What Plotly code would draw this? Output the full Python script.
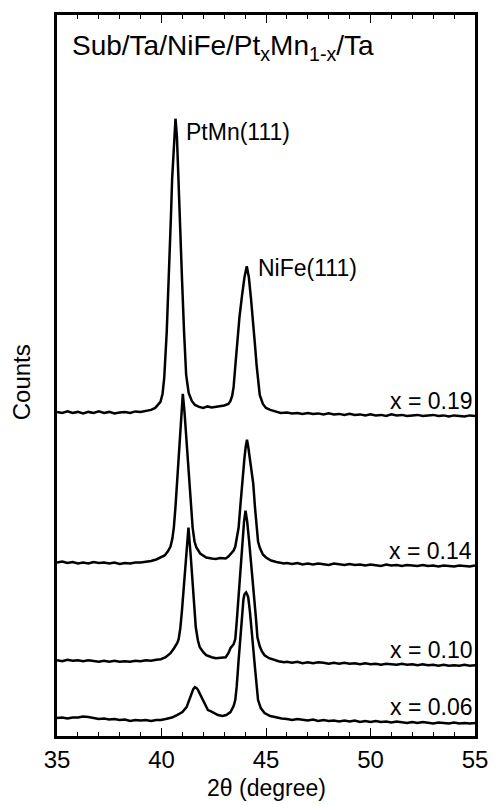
import plotly.graph_objects as go

# ---- XRD scans of Sub/Ta/NiFe/PtxMn1-x/Ta, stacked with vertical offsets (a.u.) ----
two_theta_x019 = [35.0, 35.25, 35.5, 35.75, 36.0, 36.25, 36.5, 36.75, 37.0, 37.25, 37.5, 37.75,
                  38.0, 38.25, 38.5, 38.75, 39.0, 39.25, 39.5, 39.7, 39.85, 39.95, 40.05, 40.13,
                  40.25, 40.36, 40.45, 40.51, 40.6, 40.67, 40.74, 40.82, 40.9, 40.98, 41.08, 41.18,
                  41.3, 41.45, 41.6, 41.8, 42.0, 42.2, 42.4, 42.6, 42.8, 43.0, 43.2, 43.3, 43.38,
                  43.45, 43.52, 43.61, 43.73, 43.85, 43.97, 44.08, 44.18, 44.28, 44.38, 44.47, 44.55,
                  44.62, 44.7, 44.85, 45.0, 45.2, 45.45, 45.7, 46.0, 46.25, 46.5, 46.75, 47.0, 47.25,
                  47.5, 47.75, 48.0, 48.25, 48.5, 48.75, 49.0, 49.25, 49.5, 49.75, 50.0, 50.25, 50.5,
                  50.75, 51.0, 51.25, 51.5, 51.75, 52.0, 52.25, 52.5, 52.75, 53.0, 53.25, 53.5,
                  53.75, 54.0, 54.25, 54.5, 54.75, 55.0]
counts_x019 = [325, 324, 325.5, 324, 325, 323.5, 325, 324, 325.5, 324, 325, 323.5,
               324.5, 325, 324, 325.5, 325, 326, 327, 329, 332, 335, 343, 359,
               405, 459, 520, 559, 600, 619, 600, 559, 510, 459, 405, 362,
               344, 336, 332, 330, 329, 330.5, 329.5, 330, 331, 331.5, 333, 336, 341,
               350, 368, 393, 420, 441, 460, 471, 460, 439, 418, 393, 372,
               355, 342, 333, 329, 327, 325.5, 324, 324.5, 323.5, 324, 323, 324, 323,
               323.5, 322.5, 323.5, 322.5, 323, 322, 323, 322, 322.5, 321.5, 322.5, 321.5, 322,
               321, 322.5, 321.5, 322, 321, 321.5, 322, 321, 321.5, 322, 321, 321.5,
               320.5, 321.5, 321, 320.5, 321.5, 321]

two_theta_x014 = [35.0, 35.25, 35.5, 35.75, 36.0, 36.25, 36.5, 36.75, 37.0, 37.25, 37.5, 37.75,
                  38.0, 38.25, 38.5, 38.75, 39.0, 39.25, 39.5, 39.75, 39.97, 40.15, 40.3, 40.43,
                  40.52, 40.59, 40.67, 40.74, 40.82, 40.9, 40.96, 41.02, 41.1, 41.18, 41.26, 41.33,
                  41.41, 41.49, 41.58, 41.67, 41.85, 42.0, 42.14, 42.4, 42.6, 42.8, 43.07, 43.2,
                  43.35, 43.45, 43.53, 43.61, 43.69, 43.77, 43.85, 43.97, 44.03, 44.09, 44.15, 44.22,
                  44.3, 44.39, 44.47, 44.54, 44.62, 44.7, 44.85, 45.0, 45.24, 45.5, 45.86, 46.0,
                  46.25, 46.5, 46.75, 47.0, 47.25, 47.5, 47.75, 48.0, 48.25, 48.5, 48.75, 49.0,
                  49.25, 49.5, 49.75, 50.0, 50.25, 50.5, 50.75, 51.0, 51.25, 51.5, 51.75, 52.0,
                  52.25, 52.5, 52.75, 53.0, 53.25, 53.5, 53.75, 54.0, 54.25, 54.5, 54.75, 55.0]
counts_x014 = [174, 175, 173.5, 174.5, 173, 174, 173, 174.5, 173.5, 174, 173, 174,
               172.5, 173.5, 173, 174, 174, 174.5, 175.5, 177, 179, 181, 185, 190,
               198, 209, 230, 253, 278, 303, 325, 343, 325, 303, 278, 253,
               230, 209, 195, 189, 183, 180.5, 179, 178, 177.5, 178.5, 178, 180,
               183, 186, 190, 198, 209, 230, 253, 279, 290, 297, 290, 279,
               265, 253, 230, 209, 195, 189, 182, 179, 176, 174.5, 173, 173.5,
               172.5, 173.5, 172, 173, 172, 173, 172.5, 171.5, 173, 172, 171.5, 172.5,
               171.5, 172, 171, 172, 171.5, 170.5, 172, 171, 171.5, 170.5, 171.5, 171,
               170.5, 171.5, 170.5, 171, 170, 171, 170.5, 170, 171, 170.5, 170, 171]

two_theta_x010 = [35.0, 35.25, 35.5, 35.75, 36.0, 36.25, 36.5, 36.75, 37.0, 37.25, 37.5, 37.75,
                  38.0, 38.25, 38.5, 38.75, 39.0, 39.25, 39.5, 39.75, 39.97, 40.2, 40.43, 40.6,
                  40.75, 40.82, 40.9, 40.98, 41.09, 41.2, 41.29, 41.4, 41.52, 41.64, 41.74, 41.83,
                  42.0, 42.14, 42.4, 42.6, 42.85, 43.07, 43.2, 43.3, 43.45, 43.53, 43.6, 43.69,
                  43.81, 43.87, 43.95, 44.02, 44.1, 44.19, 44.28, 44.43, 44.52, 44.59, 44.7, 44.8,
                  44.93, 45.15, 45.4, 45.6, 45.86, 46.0, 46.25, 46.5, 46.75, 47.0, 47.25, 47.5,
                  47.75, 48.0, 48.25, 48.5, 48.75, 49.0, 49.25, 49.5, 49.75, 50.0, 50.25, 50.5,
                  50.75, 51.0, 51.25, 51.5, 51.75, 52.0, 52.25, 52.5, 52.75, 53.0, 53.25, 53.5,
                  53.75, 54.0, 54.25, 54.5, 54.75, 55.0]
counts_x010 = [76, 75, 76.5, 75.5, 76, 75, 76, 75.5, 74.5, 75.5, 74.5, 75.5,
               74.5, 75, 74.5, 75.5, 75, 76, 75.5, 76.5, 77, 79, 83, 88,
               93, 97, 108, 126, 159, 190, 209, 180, 143, 109, 96, 89,
               84, 81, 79, 78, 78.5, 79, 83, 88, 92, 97, 115, 143,
               176, 196, 215, 226, 215, 196, 176, 143, 118, 99, 90, 85,
               81, 78, 76, 75, 74, 74.5, 73.5, 74.5, 73, 74, 73, 74,
               73.5, 72.5, 73.5, 72.5, 73.5, 72.5, 73, 72, 73, 72, 72.5, 71.5,
               72.5, 72, 71.5, 72.5, 71.5, 72, 71, 72, 71, 71.5, 70.5, 71.5,
               70.5, 71, 70.5, 71.5, 70.5, 71]

two_theta_x006 = [35.0, 35.25, 35.5, 35.75, 36.0, 36.25, 36.5, 36.75, 37.0, 37.25, 37.5, 37.75,
                  38.0, 38.25, 38.5, 38.75, 39.0, 39.25, 39.5, 39.75, 39.97, 40.2, 40.5, 40.74,
                  41.0, 41.2, 41.35, 41.44, 41.52, 41.6, 41.68, 41.75, 41.87, 41.99, 42.1, 42.22,
                  42.35, 42.53, 42.7, 42.92, 43.1, 43.3, 43.45, 43.53, 43.6, 43.69, 43.77, 43.85,
                  43.92, 43.97, 44.05, 44.1, 44.15, 44.23, 44.31, 44.39, 44.47, 44.55, 44.62, 44.75,
                  44.93, 45.2, 45.55, 45.75, 46.0, 46.25, 46.5, 46.75, 47.0, 47.25, 47.5, 47.75,
                  48.0, 48.25, 48.5, 48.75, 49.0, 49.25, 49.5, 49.75, 50.0, 50.25, 50.5, 50.75,
                  51.0, 51.25, 51.5, 51.75, 52.0, 52.25, 52.5, 52.75, 53.0, 53.25, 53.5, 53.75,
                  54.0, 54.25, 54.5, 54.75, 55.0]
counts_x006 = [18, 18.5, 17.5, 18.5, 18.5, 19.5, 19, 18, 17, 17.5, 16.5, 17,
               16, 16.5, 15, 16, 15.5, 16, 15, 16, 16, 17, 18.5, 21,
               24, 29, 37, 43, 47, 49, 48, 46, 41, 36, 30, 26,
               25, 23, 21, 20, 21, 24, 30, 36, 50, 76, 100, 126,
               137, 142, 144, 142, 139, 125, 109, 88, 69, 50, 36, 28,
               23, 20, 18, 17.5, 17, 16, 17, 16, 15.5, 16.5, 15, 16,
               15, 15.5, 14.5, 15.5, 14.5, 15.5, 14, 15, 14, 15, 14, 14.5,
               13.5, 14.5, 14, 13, 14, 13, 14, 13.5, 12.5, 13.5, 13, 12.5,
               13.5, 12.5, 13, 12.5, 13]

sample_labels = ["x = 0.19", "x = 0.14", "x = 0.10", "x = 0.06"]
label_heights = [336, 186, 86, 29]
peak_names = ["PtMn(111)", "NiFe(111)"]
x_ticks = [35, 40, 45, 50, 55]

FONT = "Liberation Sans, Arial, Helvetica, sans-serif"

fig = go.Figure()
for tt, cc in [(two_theta_x019, counts_x019), (two_theta_x014, counts_x014),
               (two_theta_x010, counts_x010), (two_theta_x006, counts_x006)]:
    fig.add_trace(go.Scatter(x=tt, y=cc, mode="lines",
                             line=dict(color="black", width=2.5), hoverinfo="skip"))

annotations = []
for text, yv in zip(sample_labels, label_heights):
    annotations.append(dict(x=54.93, y=yv, xref="x", yref="y", text=text, showarrow=False,
                            xanchor="right", yanchor="middle",
                            font=dict(family=FONT, size=23, color="black")))

# peak labels placed beside the 0.19 peak tops
annotations.append(dict(x=41.1, y=606, xref="x", yref="y", text=peak_names[0], showarrow=False,
                        xanchor="left", yanchor="middle", font=dict(family=FONT, size=23, color="black")))
annotations.append(dict(x=44.5, y=469, xref="x", yref="y", text=peak_names[1], showarrow=False,
                        xanchor="left", yanchor="middle", font=dict(family=FONT, size=23, color="black")))

# stack description
annotations.append(dict(x=0.031, y=0.955, xref="paper", yref="paper",
                        text="Sub/Ta/NiFe/Pt<sub>x</sub>Mn<sub>1-x</sub>/Ta", showarrow=False,
                        xanchor="left", yanchor="middle", font=dict(family=FONT, size=28, color="black")))

# axis titles
annotations.append(dict(x=0.5, y=-0.0725, xref="paper", yref="paper", text="2θ (degree)",
                        showarrow=False, xanchor="center", yanchor="middle",
                        font=dict(family=FONT, size=23, color="black")))
annotations.append(dict(x=-0.083, y=0.491, xref="paper", yref="paper", text="Counts",
                        showarrow=False, textangle=-90, xanchor="center", yanchor="middle",
                        font=dict(family=FONT, size=24, color="black")))

fig.update_layout(
    width=500, height=805,
    margin=dict(l=57, r=14, t=13, b=69),
    plot_bgcolor="white", paper_bgcolor="white",
    showlegend=False,
    annotations=annotations,
)
fig.update_xaxes(
    range=[35, 55], tickvals=x_ticks, ticktext=[str(v) for v in x_ticks],
    ticks="inside", ticklen=8, tickwidth=1, tickcolor="black",
    minor=dict(dtick=1, tick0=35, ticks="inside", ticklen=4, tickwidth=1, tickcolor="black"),
    showline=True, linewidth=3, linecolor="black", mirror="allticks",
    showgrid=False, zeroline=False,
    tickfont=dict(family=FONT, size=24, color="black"),
)
fig.update_yaxes(
    range=[0, 723], showticklabels=False, ticks="",
    showline=True, linewidth=3, linecolor="black", mirror=True,
    showgrid=False, zeroline=False,
)

fig.write_html("out.html")
